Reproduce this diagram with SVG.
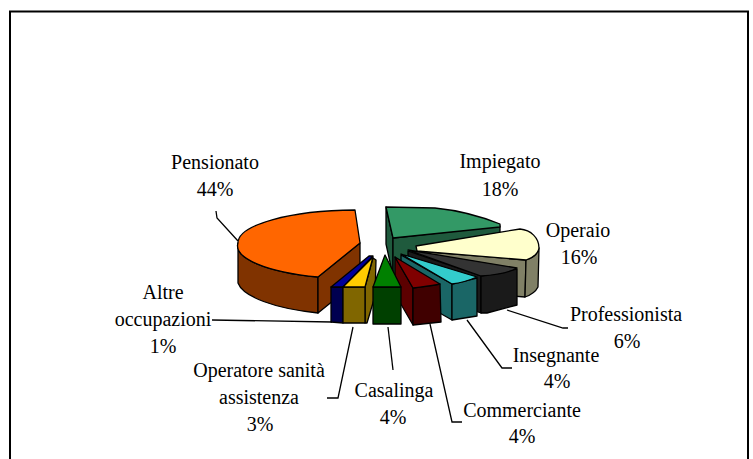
<svg xmlns="http://www.w3.org/2000/svg" width="753" height="459" viewBox="0 0 753 459">
<style>
.s{stroke:#000;stroke-width:1.3;stroke-linejoin:round}
.t{font-family:"Liberation Serif","Times New Roman",serif;font-size:20px;fill:#000;text-anchor:middle}
.l{fill:none;stroke:#000;stroke-width:1.3}
</style>
<rect x="0" y="0" width="753" height="459" fill="#fff"/>
<rect x="10" y="11.5" width="738" height="470" fill="#fff" stroke="#000" stroke-width="2"/>

<g id="impiegato">
<polygon class="s" fill="#1F5A3D" points="386,207 393,238 393,276 386,244"/>
<polygon class="s" fill="#1F5A3D" points="393,238 500,226 500,262 393,276"/>
<path class="s" fill="#339966" d="M386,207 L435,208 C455,210 480,216 500,224 L500,227 L393,238 Z"/>
<text class="t" x="500" y="168">Impiegato</text>
<text class="t" x="500" y="196">18%</text>
</g>

<g id="pensionato">
<path class="s" fill="#803300" d="M238,243 A119 33 0 0 0 318,277 L318,313 A119 36 0 0 1 238,283 Z"/>
<polygon class="s" fill="#803300" points="318,277 360,243 360,279 318,313"/>
<path class="s" fill="#FF6600" d="M360,243 L355,210 A119 33 0 0 0 238,243 A119 33 0 0 0 318,277 Z"/>
<text class="t" x="215" y="169">Pensionato</text>
<text class="t" x="215" y="196">44%</text>
</g>

<g id="operaio">
<polygon class="s" fill="#808066" points="417,251 526,260 525,297 417,288"/>
<path class="s" fill="#808066" d="M539,248 C538,254 532,258 526,260 L525,297 C531,295 536,291 538,287 Z"/>
<path class="s" fill="#FFFFCC" d="M416,246 L520,229 C531,230 539,238 539,248 C538,254 532,258 526,260 L417,251 Z"/>
<text class="t" x="578" y="237">Operaio</text>
<text class="t" x="579" y="264">16%</text>
</g>

<g id="professionista">
<polygon class="s" fill="#1A1A1A" points="408,251 481,276 481,313 408,288"/>
<polygon class="s" fill="#1A1A1A" points="481,276 517,269 517,305 487,313 481,313"/>
<path class="s" fill="#333333" d="M408,250 L517,268 C510,272 495,275 481,276 Z"/>
<text class="t" x="626" y="321">Professionista</text>
<text class="t" x="627" y="348">6%</text>
</g>

<g id="insegnante">
<polygon class="s" fill="#1A6666" points="401,255 452,284 452,320 401,291"/>
<polygon class="s" fill="#1A6666" points="452,284 477,278 477,316 452,320"/>
<path class="s" fill="#33CCCC" d="M401,254 L477,277 C470,280 460,283 452,284 Z"/>
<text class="t" x="556" y="362">Insegnante</text>
<text class="t" x="557" y="388">4%</text>
</g>

<g id="commerciante">
<polygon class="s" fill="#5C0000" points="395,257 413,288 413,325 395,294"/>
<polygon class="s" fill="#400000" points="413,288 440,284 441,322 413,325"/>
<path class="s" fill="#800000" d="M395,257 L440,284 C432,286 420,287 413,288 Z"/>
<text class="t" x="522" y="417">Commerciante</text>
<text class="t" x="522" y="443">4%</text>
</g>

<g id="altre-occupazioni">
<polygon class="s" fill="#000050" points="331,287 343,287 343,323 331,322"/>
<polygon class="s" fill="#000099" points="331,287 343,287 373,256 369,256"/>
<text class="t" x="163" y="299">Altre</text>
<text class="t" x="163" y="326">occupazioni</text>
<text class="t" x="163" y="353">1%</text>
</g>

<g id="operatore-sanita">
<polygon class="s" fill="#806600" points="365,287 373,258 376,260 375,296 367,323 365,323"/>
<polygon class="s" fill="#806600" points="343,287 365,287 365,323 343,323"/>
<polygon class="s" fill="#FFCC00" points="343,287 365,287 373,257"/>
<text class="t" x="259" y="377">Operatore sanità</text>
<text class="t" x="259" y="404">assistenza</text>
<text class="t" x="260" y="431">3%</text>
</g>

<g id="casalinga">
<polygon class="s" fill="#004000" points="373,287 401,287 401,324 373,324"/>
<polygon class="s" fill="#008000" points="373,287 401,287 385,255"/>
<text class="t" x="394" y="397">Casalinga</text>
<text class="t" x="393" y="424">4%</text>
</g>

<g id="connectors">
<polyline class="l" points="216,211 217,218 238,241"/>
<polyline class="l" points="212,320 332,322"/>
<polyline class="l" points="353,327 338,398 327,398"/>
<polyline class="l" points="388,327 393,370"/>
<polyline class="l" points="430,324 452,422 462,422"/>
<polyline class="l" points="467,320 502,368 512,368"/>
<polyline class="l" points="507,310 563,328 568,328"/>
</g>
</svg>
